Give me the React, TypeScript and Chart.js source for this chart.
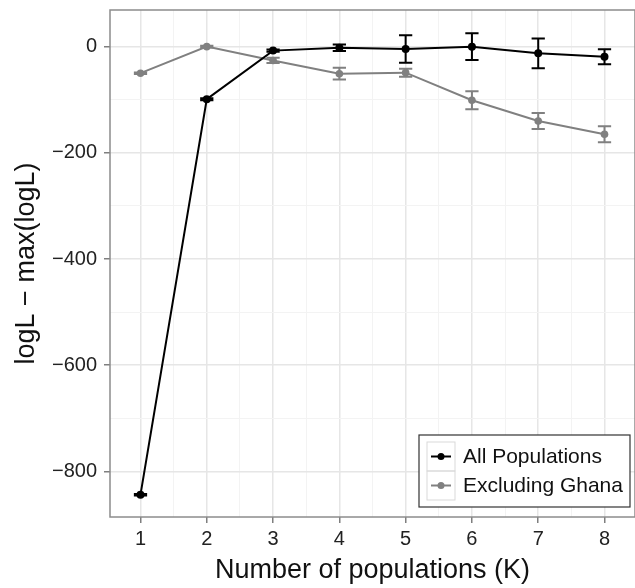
import { useEffect, useRef } from 'react';
import { Chart, registerables } from 'chart.js';

Chart.register(...registerables);

// ---- data ----
const K = [1, 2, 3, 4, 5, 6, 7, 8];
const ALL_POPULATIONS = [-844, -99, -7.5, -2, -4.5, 0, -12.5, -19];
const ALL_POPULATIONS_ERR = [1.5, 2, 2, 6, 26, 25, 28, 14];
const EXCLUDING_GHANA = [-50, 0, -26, -51, -49, -101, -140, -165];
const EXCLUDING_GHANA_ERR = [1.5, 1.5, 5, 11, 7.5, 17, 15, 15];
const SERIES_LABELS = ['All Populations', 'Excluding Ghana'];
const SERIES_COLORS = ['#000000', '#808080'];
const X_TICKS = [1, 2, 3, 4, 5, 6, 7, 8];
const X_MINOR = [1.5, 2.5, 3.5, 4.5, 5.5, 6.5, 7.5];
const Y_TICKS = [0, -200, -400, -600, -800];
const Y_MINOR = [-100, -300, -500, -700];
const X_TITLE = 'Number of populations (K)';
const Y_TITLE = 'logL \u2212 max(logL)';

const FONT = '"Liberation Sans", Arial, Helvetica, sans-serif';

const fmtY = (v: number) => (v < 0 ? '\u2212' + Math.abs(v) : String(v));

const errorBarPlugin = {
  id: 'errorBars',
  afterDatasetDraw(chart: any, args: any) {
    const ds: any = chart.data.datasets[args.index];
    if (!ds.errors) return;
    const xs = chart.scales.x;
    const ys = chart.scales.y;
    const ctx = chart.ctx;
    ctx.save();
    ctx.strokeStyle = ds.borderColor;
    ctx.lineWidth = 2;
    ds.data.forEach((p: any, i: number) => {
      const e = ds.errors[i];
      const x = xs.getPixelForValue(p.x);
      const x0 = xs.getPixelForValue(p.x - 0.1);
      const x1 = xs.getPixelForValue(p.x + 0.1);
      const yTop = ys.getPixelForValue(p.y + e);
      const yBot = ys.getPixelForValue(p.y - e);
      ctx.beginPath();
      ctx.moveTo(x, yTop);
      ctx.lineTo(x, yBot);
      ctx.moveTo(x0, yTop);
      ctx.lineTo(x1, yTop);
      ctx.moveTo(x0, yBot);
      ctx.lineTo(x1, yBot);
      ctx.stroke();
    });
    ctx.restore();
  },
};

const panelBorderPlugin = {
  id: 'panelBorder',
  beforeDatasetsDraw(chart: any) {
    const { ctx, chartArea: a } = chart;
    ctx.save();
    ctx.strokeStyle = '#8C8C8C';
    ctx.lineWidth = 1.5;
    ctx.strokeRect(a.left, a.top, a.right - a.left, a.bottom - a.top);
    ctx.restore();
  },
};

const legendPlugin = {
  id: 'boxLegend',
  afterDraw(chart: any) {
    const { ctx, chartArea: a } = chart;
    const w = 211;
    const h = 72;
    const right = a.right - 5;
    const bottom = a.bottom - 10;
    const left = right - w;
    const top = bottom - h;
    ctx.save();
    ctx.fillStyle = '#FFFFFF';
    ctx.fillRect(left, top, w, h);
    ctx.strokeStyle = '#333333';
    ctx.lineWidth = 1.2;
    ctx.strokeRect(left, top, w, h);
    const rowH = 29;
    const keyL = left + 8;
    const keyW = 28;
    chart.data.datasets.forEach((ds: any, i: number) => {
      const rt = top + 7 + i * rowH;
      ctx.strokeStyle = '#D9D9D9';
      ctx.lineWidth = 1;
      ctx.strokeRect(keyL, rt, keyW, rowH);
      const cy = rt + rowH / 2;
      ctx.strokeStyle = ds.borderColor;
      ctx.lineWidth = 2;
      ctx.beginPath();
      ctx.moveTo(keyL + 4, cy);
      ctx.lineTo(keyL + keyW - 4, cy);
      ctx.stroke();
      ctx.fillStyle = ds.borderColor;
      ctx.beginPath();
      ctx.arc(keyL + keyW / 2, cy, 3.5, 0, Math.PI * 2);
      ctx.fill();
      ctx.fillStyle = '#111111';
      ctx.font = `21px ${FONT}`;
      ctx.textAlign = 'left';
      ctx.textBaseline = 'middle';
      ctx.fillText(ds.label, keyL + keyW + 8, cy + 1);
    });
    ctx.restore();
  },
};

export default function App() {
  const ref = useRef<HTMLCanvasElement>(null);

  useEffect(() => {
    if (!ref.current) return;
    const mk = (vals: number[]) => vals.map((y, i) => ({ x: K[i], y }));
    const chart = new Chart(ref.current, {
      type: 'line',
      data: {
        datasets: [
          {
            label: SERIES_LABELS[0],
            data: mk(ALL_POPULATIONS),
            errors: ALL_POPULATIONS_ERR,
            borderColor: SERIES_COLORS[0],
            backgroundColor: SERIES_COLORS[0],
            borderWidth: 2,
            pointRadius: 4,
            pointBorderWidth: 0,
            tension: 0,
          } as any,
          {
            label: SERIES_LABELS[1],
            data: mk(EXCLUDING_GHANA),
            errors: EXCLUDING_GHANA_ERR,
            borderColor: SERIES_COLORS[1],
            backgroundColor: SERIES_COLORS[1],
            borderWidth: 2,
            pointRadius: 3.8,
            pointBorderWidth: 0,
            tension: 0,
          } as any,
        ],
      },
      options: {
        animation: false,
        responsive: true,
        maintainAspectRatio: false,
        layout: { autoPadding: false, padding: { top: 10, right: 0, left: 0, bottom: 0 } },
        plugins: {
          legend: { display: false },
          tooltip: { enabled: false },
        },
        scales: {
          x: {
            type: 'linear',
            min: 0.54,
            max: 8.46,
            afterBuildTicks: (s: any) => {
              s.ticks = [...X_TICKS, ...X_MINOR].sort((a, b) => a - b).map((v) => ({ value: v }));
            },
            afterFit: (s: any) => {
              s.height = 71;
              s.paddingLeft = 0;
              s.paddingRight = 0;
              s.paddingTop = 0;
              s.paddingBottom = 0;
            },
            border: { display: false },
            grid: {
              color: (c: any) => (c.tick && X_MINOR.includes(c.tick.value) ? '#F3F3F3' : '#E6E6E6'),
              lineWidth: (c: any) => (c.tick && X_MINOR.includes(c.tick.value) ? 1 : 1.5),
              tickColor: (c: any) => (c.tick && X_MINOR.includes(c.tick.value) ? 'rgba(0,0,0,0)' : '#7F7F7F'),
              tickWidth: 1.5,
              tickLength: 6,
            },
            ticks: {
              autoSkip: false,
              maxRotation: 0,
              padding: 4,
              color: '#222222',
              font: { family: FONT, size: 20 },
              callback: (v: any) => (X_TICKS.includes(v) ? String(v) : ''),
            },
            title: {
              display: true,
              text: X_TITLE,
              color: '#111111',
              font: { family: FONT, size: 27 },
              padding: { top: 0, bottom: 1 },
            },
          },
          y: {
            type: 'linear',
            min: -886,
            max: 69,
            afterBuildTicks: (s: any) => {
              s.ticks = [...Y_TICKS, ...Y_MINOR].sort((a, b) => a - b).map((v) => ({ value: v }));
            },
            afterFit: (s: any) => {
              s.width = 110;
              s.paddingLeft = 0;
              s.paddingRight = 0;
              s.paddingTop = 0;
              s.paddingBottom = 0;
            },
            border: { display: false },
            grid: {
              color: (c: any) => (c.tick && Y_MINOR.includes(c.tick.value) ? '#F3F3F3' : '#E6E6E6'),
              lineWidth: (c: any) => (c.tick && Y_MINOR.includes(c.tick.value) ? 1 : 1.5),
              tickColor: (c: any) => (c.tick && Y_MINOR.includes(c.tick.value) ? 'rgba(0,0,0,0)' : '#7F7F7F'),
              tickWidth: 1.5,
              tickLength: 6,
            },
            ticks: {
              autoSkip: false,
              padding: 7,
              color: '#222222',
              font: { family: FONT, size: 20 },
              callback: (v: any) => (Y_TICKS.includes(v) ? fmtY(v) : ''),
            },
            title: {
              display: true,
              text: Y_TITLE,
              color: '#111111',
              font: { family: FONT, size: 27 },
              padding: { top: 10, bottom: 0 },
            },
          },
        },
      },
      plugins: [panelBorderPlugin, errorBarPlugin, legendPlugin],
    } as any);
    return () => chart.destroy();
  }, []);

  return (
    <div style={{ position: 'absolute', left: 0, top: 0, width: 635, height: 588, background: '#fff' }}>
      <canvas ref={ref} />
    </div>
  );
}
